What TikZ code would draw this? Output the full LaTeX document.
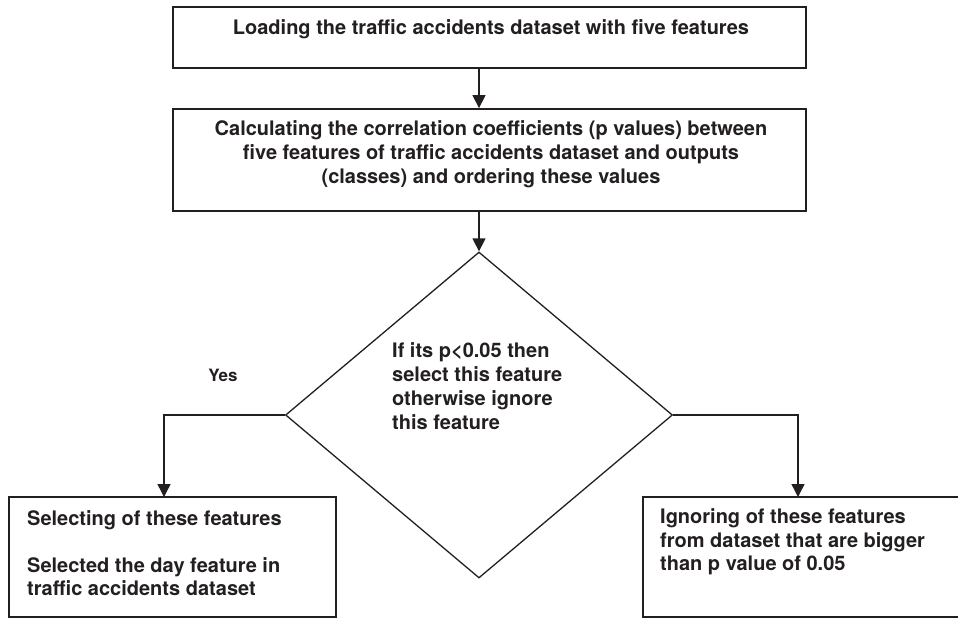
\documentclass[tikz,border=0pt]{standalone}
\usepackage{fontspec}
\setmainfont{TeX Gyre Heros}
\usetikzlibrary{shapes.geometric,arrows.meta}
\definecolor{ink}{HTML}{231F20}
\tikzset{
  stepbox/.style={draw=ink, line width=1.8pt, minimum width=633pt, inner sep=0pt},
  decision/.style={draw=ink, line width=1.3pt, diamond, inner sep=0pt,
    minimum width=387pt, minimum height=326pt},
  lbl/.style={text=ink, font=\fontsize{20}{24}\selectfont\bfseries, inner sep=0pt},
  flow/.style={draw=ink, line width=1.4pt, -{Triangle[width=13pt,length=13pt]}}
}
\begin{document}
\begin{tikzpicture}[x=1pt,y=-1pt]
  \useasboundingbox (0,0) rectangle (958,619);

  % process boxes
  \node[stepbox, minimum height=61pt] (b1) at (489.5,37.5) {};
  \node[stepbox, minimum height=102pt] (b2) at (489.5,160) {};
  \node[decision] (d) at (479,415) {};
  \node[stepbox, minimum width=327pt, minimum height=120pt] (b3) at (172.5,557) {};
  \node[stepbox, minimum width=357pt, minimum height=120pt] (b4) at (821.5,557) {};

  % texts
  \node[lbl] (t1) at (491,29) {Loading the traffic accidents dataset with five features};
  \node[lbl, align=center] (t2) at (491,154) {Calculating the correlation coefficients (p values) between\\
    five features of traffic accidents dataset and outputs\\
    (classes) and ordering these values};
  \node[lbl, align=left, anchor=west] (td) at (392,386) {If its p<0.05 then\\
    select this feature\\ otherwise ignore\\ this feature};
  \node[lbl, align=left, anchor=west, font=\fontsize{20}{23.5}\selectfont\bfseries] (t3) at (27,553)
    {Selecting of these features\\[23.5pt] Selected the day feature in\\ traffic accidents dataset};
  \node[lbl, align=left, anchor=west, font=\fontsize{20}{23.5}\selectfont\bfseries] (t4) at (660,542)
    {Ignoring of these features\\ from dataset that are bigger\\ than p value of 0.05};
  \node[lbl, font=\fontsize{17}{20}\selectfont\bfseries] (yes) at (223,375) {Yes};

  % connectors
  \coordinate (lt) at (164,497);
  \coordinate (rt) at (798,497);
  \draw[flow] (d.north |- b1.south) -- (d.north |- b2.north);
  \draw[flow] (d.north |- b2.south) -- (d.north);
  \draw[flow] (d.west) -| (lt);
  \draw[flow] (d.east) -| (rt);
\end{tikzpicture}
\end{document}
